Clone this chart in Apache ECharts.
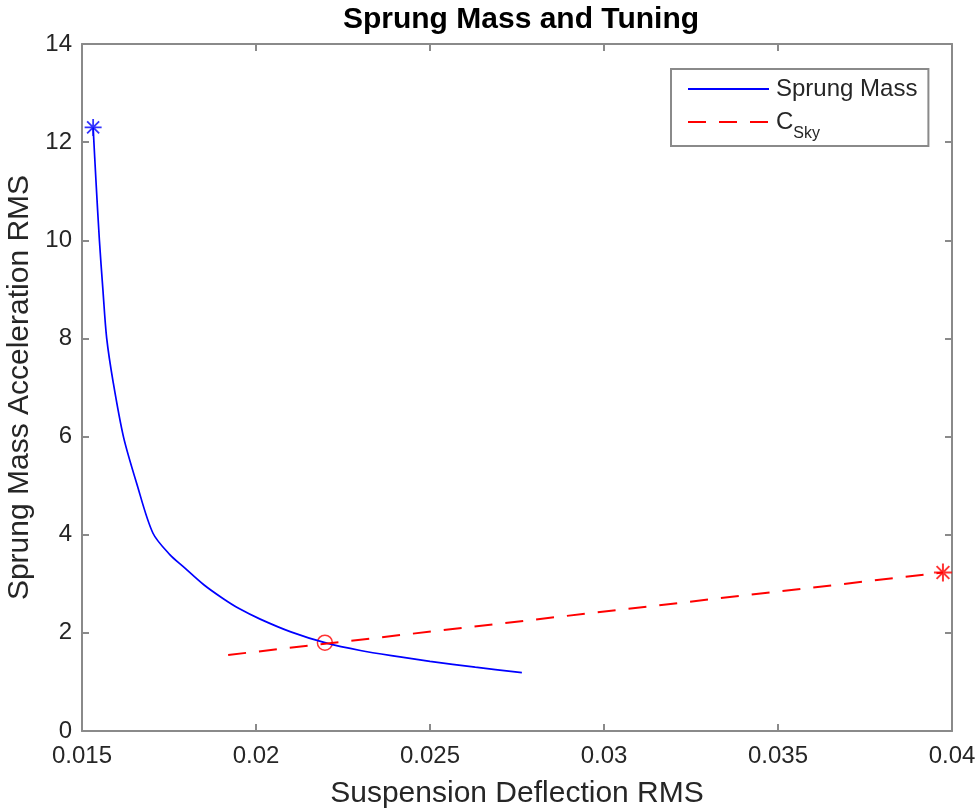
<!DOCTYPE html>
<html>
<head>
<meta charset="utf-8">
<style>
  html, body { margin: 0; padding: 0; background: #fff; }
  #chart { width: 977px; height: 808px; }
</style>
<script src="https://cdn.jsdelivr.net/npm/echarts@6/dist/echarts.min.js"></script>
</head>
<body>
<div id="chart"></div>
<script>
// Sprung-mass trade-off curve: suspension deflection RMS vs acceleration RMS
const sprungX = [0.01532, 0.01540, 0.01550, 0.01560, 0.01571, 0.01590, 0.01619, 0.01657, 0.01704,
                 0.01753, 0.01791, 0.01850, 0.01905, 0.01950, 0.02012, 0.02100, 0.02198, 0.02300,
                 0.02414, 0.02500, 0.02630, 0.02764];
const sprungY = [12.30, 11.23, 10.00, 9.00, 8.00, 7.09, 6.00, 5.05, 4.03,
                 3.59, 3.35, 2.98, 2.70, 2.50, 2.28, 2.02, 1.80, 1.64,
                 1.51, 1.42, 1.30, 1.19];

// Skyhook damping tuning line
const skyX = [0.01920, 0.03974];
const skyY = [1.55, 3.23];

// Selected tuning point
const tuneX = [0.02198];
const tuneY = [1.80];

// Axis ranges and ticks
const xMin = 0.015, xMax = 0.04, xStep = 0.005;
const yMin = 0, yMax = 14, yStep = 2;

const seriesNames = ['Sprung Mass', 'C_Sky'];

const pairs = (xs, ys) => xs.map((x, i) => [x, ys[i]]);
const sprungData = pairs(sprungX, sprungY);
const skyData = pairs(skyX, skyY);
const tuneData = pairs(tuneX, tuneY);

const starPath = 'path://M0,-10L0,10M-10,0L10,0M-7.07,-7.07L7.07,7.07M-7.07,7.07L7.07,-7.07';
const font = '"Liberation Sans", Arial, Helvetica, sans-serif';
const axisGray = '#8a8a8a';

const chart = echarts.init(document.getElementById('chart'), null, { renderer: 'canvas' });

const baseX = {
  type: 'value', min: xMin, max: xMax, interval: xStep,
  axisLine: { show: true, onZero: false, lineStyle: { color: axisGray, width: 2 } },
  axisTick: { show: true, inside: true, length: 7, lineStyle: { color: axisGray, width: 2 } },
  splitLine: { show: false }
};
const baseY = {
  type: 'value', min: yMin, max: yMax, interval: yStep,
  axisLine: { show: true, onZero: false, lineStyle: { color: axisGray, width: 2 } },
  axisTick: { show: true, inside: true, length: 7, lineStyle: { color: axisGray, width: 2 } },
  splitLine: { show: false }
};

chart.setOption({
  animation: false,
  backgroundColor: '#fff',
  textStyle: { fontFamily: font },
  title: {
    text: 'Sprung Mass and Tuning',
    left: 516, textAlign: 'center', top: 0,
    textStyle: { fontFamily: font, fontSize: 30, fontWeight: 'bold', color: '#000' }
  },
  grid: { left: 82, right: 25, top: 44, bottom: 77, containLabel: false, outerBoundsMode: 'none' },
  legend: {
    data: seriesNames,
    orient: 'vertical',
    left: 671, top: 69,
    padding: [8, 11, 4, 16],
    itemWidth: 81, itemHeight: 14, itemGap: 9,
    backgroundColor: '#fff',
    borderColor: axisGray, borderWidth: 2,
    // line-only keys: hide the marker drawn in the middle of each key
    itemStyle: { color: 'transparent', borderColor: 'transparent', borderWidth: 0, opacity: 0 },
    formatter: name => name === 'C_Sky' ? '{c|C}{s|Sky}' : '{n|' + name + '}',
    textStyle: {
      fontFamily: font, color: '#262626',
      rich: {
        n: { fontFamily: font, fontSize: 24, lineHeight: 24, color: '#262626', padding: [0, 0, 0, 2] },
        c: { fontFamily: font, fontSize: 24, lineHeight: 24, color: '#262626', verticalAlign: 'top', padding: [0, 0, 0, 2] },
        s: { fontFamily: font, fontSize: 16, lineHeight: 16, color: '#262626', verticalAlign: 'top', padding: [16, 0, 0, 0] }
      }
    }
  },
  xAxis: [
    Object.assign({}, baseX, {
      position: 'bottom',
      name: 'Suspension Deflection RMS', nameLocation: 'middle', nameGap: 48,
      nameTextStyle: { fontFamily: font, fontSize: 30, color: '#262626' },
      axisLabel: { show: true, margin: 13, fontFamily: font, fontSize: 24, color: '#262626' }
    }),
    Object.assign({}, baseX, { position: 'top', axisLabel: { show: false } })
  ],
  yAxis: [
    Object.assign({}, baseY, {
      position: 'left',
      name: 'Sprung Mass Acceleration RMS', nameLocation: 'middle', nameGap: 47,
      nameTextStyle: { fontFamily: font, fontSize: 30, color: '#262626' },
      axisLabel: { show: true, margin: 10, fontFamily: font, fontSize: 24, color: '#262626' }
    }),
    Object.assign({}, baseY, { position: 'right', axisLabel: { show: false } })
  ],
  series: [
    {
      name: seriesNames[0], type: 'line', data: sprungData,
      xAxisIndex: 0, yAxisIndex: 0,
      symbol: 'none', smooth: 0.3,
      lineStyle: { color: '#0000ff', width: 1.7 },
      itemStyle: { color: '#0000ff' }
    },
    {
      name: seriesNames[1], type: 'line', data: skyData,
      xAxisIndex: 0, yAxisIndex: 0,
      symbol: 'none',
      lineStyle: { color: '#ff0000', width: 2, type: [18, 13] },
      itemStyle: { color: '#ff0000' }
    },
    {
      name: 'sprungStart', type: 'scatter', data: [sprungData[0]],
      symbol: starPath, symbolSize: 17,
      itemStyle: { color: 'transparent', borderColor: '#0000ff', borderWidth: 1.8 }
    },
    {
      name: 'skyEnd', type: 'scatter', data: [skyData[skyData.length - 1]],
      symbol: starPath, symbolSize: 18,
      itemStyle: { color: 'transparent', borderColor: '#ff0000', borderWidth: 2 }
    },
    {
      name: 'tuningPoint', type: 'scatter', data: tuneData,
      symbol: 'circle', symbolSize: 15,
      itemStyle: { color: 'transparent', borderColor: '#ff0000', borderWidth: 1.5 }
    }
  ]
});
</script>
</body>
</html>
